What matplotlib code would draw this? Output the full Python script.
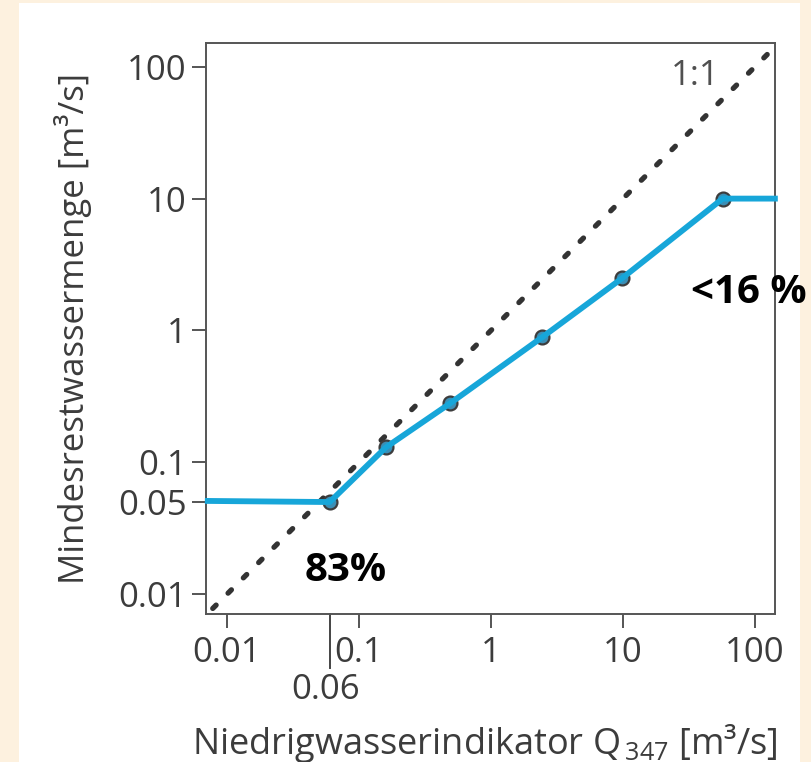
import matplotlib
matplotlib.use('Agg')
import matplotlib.pyplot as plt
from matplotlib.patches import Rectangle

plt.rcParams['font.family'] = ['Open Sans', 'DejaVu Sans']
plt.rcParams['mathtext.fontset'] = 'custom'
plt.rcParams['mathtext.rm'] = 'Open Sans'

# Q347 (x) vs minimum residual flow (y)
q347 = [0.0068, 0.06, 0.16, 0.49, 2.43, 9.8, 57, 149]
min_flow = [0.051, 0.05, 0.13, 0.28, 0.885, 2.48, 10, 10]
# the marked points on the curve
pts_x = [0.06, 0.16, 0.49, 2.43, 9.8, 57]
pts_y = [0.05, 0.13, 0.28, 0.885, 2.48, 10]
# 1:1 line ends
diag = [0.0078, 132]

tick_vals = [0.01, 0.1, 1, 10, 100]
tick_labels = ['0.01', '0.1', '1', '10', '100']
ytick_vals = [0.01, 0.05, 0.1, 1, 10, 100]
ytick_labels = ['0.01', '0.05', '0.1', '1', '10', '100']

blue = '#17a6d9'
grey = '#3c3c3c'
fs = 25

fig = plt.figure(figsize=(8.11, 7.62), dpi=100)
fig.patch.set_facecolor('#fdf1df')
# white panel
fig.patches.append(Rectangle((19/811, 0), (800-19)/811, 1 - 3/762,
                             transform=fig.transFigure, facecolor='white',
                             edgecolor='none', zorder=-10))

ax = fig.add_axes([206/811, 1 - 614/762, (775-206)/811, (614-43)/762], zorder=1)
ax.set_facecolor('white')
ax.set_xscale('log')
ax.set_yscale('log')
ax.set_xlim(10**-2.159, 10**2.152)
ax.set_ylim(10**-2.15, 10**2.18)

# 1:1 dotted line
ax.plot(diag, diag, color='#333333', lw=3.8, linestyle=(0, (0.9, 3.2)),
        dash_capstyle='round', zorder=2)

ax.plot(pts_x, pts_y, 'o', ms=10, mfc='#3b8fb6', mec='#3d3d3d', mew=1.6, zorder=3)
ax.plot(q347, min_flow, color=blue, lw=4.2, solid_capstyle='butt',
        solid_joinstyle='round', zorder=4, clip_on=False)

ax.text(35, 85, '1:1', fontsize=fs, color='#505050', ha='center', va='center')
ax.text(0.08, 0.0152, '83%', fontsize=29, fontweight='bold', color='black',
        ha='center', va='center')
ax.text(32.7, 1.94, '<16 %', fontsize=29, fontweight='bold', color='black',
        ha='left', va='center', clip_on=False, zorder=6)

ax.set_xticks(tick_vals)
ax.set_xticklabels(tick_labels)
ax.set_yticks(ytick_vals)
ax.set_yticklabels(ytick_labels)
ax.minorticks_off()
ax.tick_params(axis='both', length=10, width=1.4, color='#555555', labelsize=fs,
               labelcolor=grey)
ax.tick_params(axis='x', pad=6)
ax.tick_params(axis='y', pad=4)

# marker line at Q347 = 0.06
ax.plot([0.06, 0.06], [0, -0.095], color='#444444', lw=1.4,
        transform=ax.get_xaxis_transform(), clip_on=False)
ax.text(0.056, -0.103, '0.06', transform=ax.get_xaxis_transform(), fontsize=fs,
        color=grey, ha='center', va='top')

for s in ax.spines.values():
    s.set_color('#555555')
    s.set_linewidth(1.4)

ax.set_ylabel('Mindesrestwassermenge [m³/s]', fontsize=fs, color=grey)
ax.yaxis.set_label_coords(-0.2, 0.5)
ax.set_xlabel('Niedrigwasserindikator Q$_{\\,347}$ [m³/s]', fontsize=26, color=grey)
ax.xaxis.set_label_coords(0.49, -0.19)

fig.savefig('out.png', dpi=100, facecolor=fig.get_facecolor())
